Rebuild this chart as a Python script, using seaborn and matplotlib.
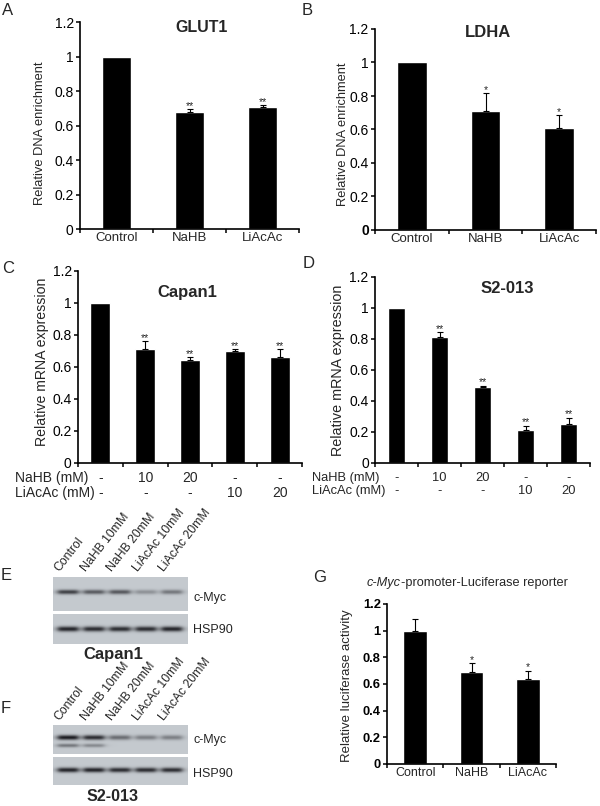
import numpy as np
import pandas as pd
import matplotlib
matplotlib.use("Agg")
import matplotlib.pyplot as plt
import matplotlib.transforms as mtransforms
import seaborn as sns

sns.set_theme(style="ticks")
plt.rcParams['font.family'] = ['Liberation Sans', 'DejaVu Sans']

# ---------------- data ----------------
ab_cats = ['Control', 'NaHB', 'LiAcAc']
glut1_vals = [1.0, 0.68, 0.71]
glut1_err = [0.0, 0.015, 0.007]
glut1_sig = ['', '**', '**']

ldha_vals = [1.0, 0.71, 0.61]
ldha_err = [0.0, 0.105, 0.075]
ldha_sig = ['', '*', '*']

cd_conds = ['Control', 'NaHB 10mM', 'NaHB 20mM', 'LiAcAc 10mM', 'LiAcAc 20mM']
nahb_mm = ['-', '10', '20', '-', '-']
liacac_mm = ['-', '-', '-', '10', '20']

capan1_vals = [1.0, 0.71, 0.64, 0.70, 0.66]
capan1_err = [0.0, 0.05, 0.02, 0.01, 0.05]
capan1_sig = ['', '**', '**', '**', '**']

s2_vals = [1.0, 0.81, 0.49, 0.21, 0.25]
s2_err = [0.0, 0.03, 0.008, 0.03, 0.04]
s2_sig = ['', '**', '**', '**', '**']

luc_vals = [1.0, 0.69, 0.64]
luc_err = [0.09, 0.065, 0.06]
luc_sig = ['', '*', '*']

# western blot band intensities (per lane, 0..1)
capan1_myc = [0.75, 0.6, 0.62, 0.3, 0.45]
capan1_hsp = [0.9, 0.85, 0.85, 0.85, 0.9]
s2_myc = [0.95, 0.85, 0.5, 0.4, 0.4]
s2_myc_low = [0.45, 0.35, 0.0, 0.0, 0.0]
s2_hsp = [0.9, 0.9, 0.85, 0.85, 0.85]

yticks = [0, 0.2, 0.4, 0.6, 0.8, 1.0, 1.2]
ytick_labels = ['0', '0.2', '0.4', '0.6', '0.8', '1', '1.2']

# ---------------- layout helpers (pixel coords) ----------------
W, H = 600, 806
fig = plt.figure(figsize=(W / 100, H / 100), dpi=100)


def rect(l, t, r, b):
    return [l / W, 1 - b / H, (r - l) / W, (b - t) / H]


def ftext(x, y, s, **kw):
    return fig.text(x / W, 1 - y / H, s, **kw)


def bar_panel(box, cats, vals, errs, sig, width, xfs=9.5, yfs=10, ybold=False):
    ax = fig.add_axes(rect(*box))
    df = pd.DataFrame({'cond': cats, 'val': vals})
    sns.barplot(data=df, x='cond', y='val', color='black', saturation=1,
                width=width, errorbar=None, ax=ax)
    idx = np.arange(len(cats))
    e = np.array(errs)
    v = np.array(vals)
    m = e > 0
    ax.errorbar(idx[m], v[m], yerr=[np.zeros(m.sum()), e[m]], fmt='none',
                ecolor='black', elinewidth=0.8, capsize=2, capthick=0.8)
    for i, (vv, ee, s) in enumerate(zip(vals, errs, sig)):
        if s:
            ax.annotate(s, (i, vv + ee), xytext=(0, 0.3), textcoords='offset points',
                        ha='center', va='baseline', fontsize=7.5)
    ax.set_ylim(0, 1.2)
    ax.set_xlim(-0.5, len(cats) - 0.5)
    ax.set_yticks(yticks)
    ax.set_yticklabels(ytick_labels, fontsize=yfs,
                       fontweight='bold' if ybold else 'normal')
    ax.set_xticks(np.arange(len(cats) + 1) - 0.5)
    ax.set_xticklabels([])
    ax.set_xticks(idx, minor=True)
    ax.set_xlabel('')
    ax.set_ylabel('')
    ax.tick_params(axis='both', which='major', length=3, width=1.1,
                   color='black', pad=1.5, labelcolor='black')
    ax.tick_params(axis='x', which='minor', length=0, pad=2.5)
    sns.despine(ax=ax)
    for sp in ['left', 'bottom']:
        ax.spines[sp].set_linewidth(1.2)
        ax.spines[sp].set_color('black')
    return ax


# ---------------- A: GLUT1 ----------------
axA = bar_panel((80, 22, 299, 229), ab_cats, glut1_vals, glut1_err, glut1_sig, 0.4)
axA.set_xticklabels(ab_cats, minor=True, fontsize=9.5)
ftext(202, 32, 'GLUT1', ha='center', va='baseline', fontsize=11.5, fontweight='bold')
ftext(40, 133, 'Relative DNA enrichment', rotation=90, ha='center', va='center', fontsize=9.3)

# ---------------- B: LDHA ----------------
axB = bar_panel((375, 29, 596, 230), ab_cats, ldha_vals, ldha_err, ldha_sig, 0.4)
axB.set_xticklabels(ab_cats, minor=True, fontsize=9.5)
axB.get_yticklabels()[0].set_fontweight('bold')
ftext(488, 37, 'LDHA', ha='center', va='baseline', fontsize=12, fontweight='bold')
ftext(343, 134, 'Relative DNA enrichment', rotation=90, ha='center', va='center', fontsize=9.3)

# ---------------- C / D: mRNA ----------------
def dose_rows(ax, y1, y2, xlab, fs):
    tr = mtransforms.blended_transform_factory(ax.transData, fig.transFigure)
    for i, (a, b) in enumerate(zip(nahb_mm, liacac_mm)):
        ax.text(i, 1 - y1 / H, a, transform=tr, ha='center', va='baseline', fontsize=fs)
        ax.text(i, 1 - y2 / H, b, transform=tr, ha='center', va='baseline', fontsize=fs)
    ftext(xlab, y1, 'NaHB (mM)', ha='left', va='baseline', fontsize=fs)
    ftext(xlab, y2, 'LiAcAc (mM)', ha='left', va='baseline', fontsize=fs)


axC = bar_panel((78, 270.7, 302, 462.7), cd_conds, capan1_vals, capan1_err, capan1_sig, 0.45)
dose_rows(axC, 482, 497, 15, 10)
ftext(187, 297, 'Capan1', ha='center', va='baseline', fontsize=12, fontweight='bold')
ftext(42, 362, 'Relative mRNA expression', rotation=90, ha='center', va='center', fontsize=10.2)

axD = bar_panel((375, 276.7, 590, 462.7), cd_conds, s2_vals, s2_err, s2_sig, 0.4)
dose_rows(axD, 481, 494, 312, 9.3)
ftext(507, 293, 'S2-013', ha='center', va='baseline', fontsize=12, fontweight='bold')
ftext(338, 370, 'Relative mRNA expression', rotation=90, ha='center', va='center', fontsize=10.4)

# ---------------- G: luciferase ----------------
axG = bar_panel((387, 604, 556, 764), ab_cats, luc_vals, luc_err, luc_sig, 0.42,
                yfs=9.3, ybold=True)
axG.set_xticklabels(ab_cats, minor=True, fontsize=9)
ftext(401, 586, 'c-Myc', ha='right', va='baseline', fontsize=9.2, style='italic')
ftext(401, 586, '-promoter-Luciferase reporter', ha='left', va='baseline', fontsize=9.2)
ftext(347, 686, 'Relative luciferase activity', rotation=90, ha='center', va='center', fontsize=9.5)

# ---------------- E / F: western blots ----------------
lane_x = [15, 41, 67, 93, 119]   # lane centres inside strip (px)
S = 4


def blot(box, bands):
    l, t, r, b = box
    w, h = int((r - l) * S), int((b - t) * S)
    xx = (np.arange(w) + 0.5) / S
    yy = (np.arange(h) + 0.5) / S
    dens = np.zeros((h, w))
    for intens, yc, sy in bands:
        gy = np.exp(-0.5 * ((yy - yc) / sy) ** 2)
        for cx, a in zip(lane_x, intens):
            gx = 1 / (1 + ((xx - cx) / 10.5) ** 6)
            dens += a * np.outer(gy, gx)
    dens = np.clip(dens, 0, 1)[..., None]
    bg = np.array([0.77, 0.79, 0.81])
    fg = np.array([0.07, 0.07, 0.09])
    img = bg * (1 - dens) + fg * dens
    ax = fig.add_axes(rect(*box))
    ax.imshow(img, aspect='auto', interpolation='bilinear')
    ax.axis('off')
    return ax


def lane_labels(y):
    for cx, s in zip(lane_x, cd_conds):
        ftext(53 + cx - 6, y, s, rotation=52, rotation_mode='anchor',
              ha='left', va='bottom', fontsize=8.8)


# E (Capan1)
blot((53, 577, 188, 611), [(capan1_myc, 15, 1.6)])
blot((53, 614, 188, 644), [(capan1_hsp, 15, 1.8)])
lane_labels(574)
ftext(193, 601, 'c-Myc', ha='left', va='baseline', fontsize=9)
ftext(193, 633, 'HSP90', ha='left', va='baseline', fontsize=9)
ftext(113, 659, 'Capan1', ha='center', va='baseline', fontsize=12, fontweight='bold')

# F (S2-013)
blot((53, 725, 188, 754), [(s2_myc, 12.5, 1.7), (s2_myc_low, 20.5, 1.3)])
blot((53, 757, 188, 785), [(s2_hsp, 13, 1.7)])
lane_labels(723)
ftext(193, 743, 'c-Myc', ha='left', va='baseline', fontsize=9)
ftext(193, 777, 'HSP90', ha='left', va='baseline', fontsize=9)
ftext(113, 801, 'S2-013', ha='center', va='baseline', fontsize=11.6, fontweight='bold')

# ---------------- panel letters ----------------
for s, x, y in [('A', 2, 15), ('B', 302, 15), ('C', 2, 273), ('D', 303, 268),
                ('E', 1, 580), ('F', 1, 713), ('G', 313, 582)]:
    ftext(x, y, s, ha='left', va='baseline', fontsize=12)

fig.savefig('out.png', dpi=100, facecolor='white')
